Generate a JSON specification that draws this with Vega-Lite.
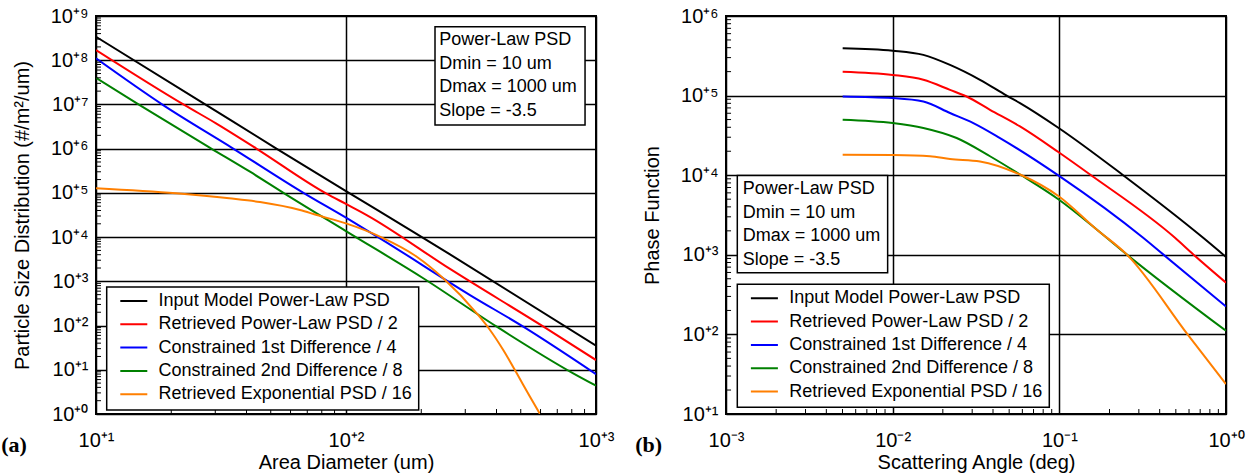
{
  "$schema": "https://vega.github.io/schema/vega-lite/v6.json",
  "background": "white",
  "padding": {"left": 0, "top": 5, "right": 5, "bottom": 0},
  "spacing": 130,
  "bounds": "flush",
  "datasets": {
    "a": [
      {"s": "Input Model Power-Law PSD", "x": 10, "y": 3.39e8},
      {"s": "Input Model Power-Law PSD", "x": 27.54, "y": 9.77e6},
      {"s": "Input Model Power-Law PSD", "x": 52.48, "y": 1.02e6},
      {"s": "Input Model Power-Law PSD", "x": 100, "y": 1.10e5},
      {"s": "Input Model Power-Law PSD", "x": 185.8, "y": 13180},
      {"s": "Input Model Power-Law PSD", "x": 260.6, "y": 4074},
      {"s": "Input Model Power-Law PSD", "x": 1000, "y": 35},
      {"s": "Retrieved Power-Law PSD / 2", "x": 10, "y": 1.70e8},
      {"s": "Retrieved Power-Law PSD / 2", "x": 22.54, "y": 9.77e6},
      {"s": "Retrieved Power-Law PSD / 2", "x": 30.2, "y": 3.74e6},
      {"s": "Retrieved Power-Law PSD / 2", "x": 43.65, "y": 1.02e6},
      {"s": "Retrieved Power-Law PSD / 2", "x": 83.18, "y": 9.77e4},
      {"s": "Retrieved Power-Law PSD / 2", "x": 100, "y": 5.62e4},
      {"s": "Retrieved Power-Law PSD / 2", "x": 121, "y": 3.16e4},
      {"s": "Retrieved Power-Law PSD / 2", "x": 260.6, "y": 1905},
      {"s": "Retrieved Power-Law PSD / 2", "x": 616.6, "y": 94.2},
      {"s": "Retrieved Power-Law PSD / 2", "x": 1000, "y": 16.6},
      {"s": "Constrained 1st Difference / 4", "x": 10, "y": 1.10e8},
      {"s": "Constrained 1st Difference / 4", "x": 18.5, "y": 9.77e6},
      {"s": "Constrained 1st Difference / 4", "x": 35.24, "y": 1.02e6},
      {"s": "Constrained 1st Difference / 4", "x": 68.08, "y": 9.77e4},
      {"s": "Constrained 1st Difference / 4", "x": 100, "y": 2.75e4},
      {"s": "Constrained 1st Difference / 4", "x": 136.8, "y": 9397},
      {"s": "Constrained 1st Difference / 4", "x": 313.3, "y": 490},
      {"s": "Constrained 1st Difference / 4", "x": 511.7, "y": 94.2},
      {"s": "Constrained 1st Difference / 4", "x": 1000, "y": 7.94},
      {"s": "Constrained 2nd Difference / 8", "x": 10, "y": 3.98e7},
      {"s": "Constrained 2nd Difference / 8", "x": 14.9, "y": 9.77e6},
      {"s": "Constrained 2nd Difference / 8", "x": 28.8, "y": 1.02e6},
      {"s": "Constrained 2nd Difference / 8", "x": 41.3, "y": 3.01e5},
      {"s": "Constrained 2nd Difference / 8", "x": 56.6, "y": 9.77e4},
      {"s": "Constrained 2nd Difference / 8", "x": 100.7, "y": 1.33e4},
      {"s": "Constrained 2nd Difference / 8", "x": 203.7, "y": 1175},
      {"s": "Constrained 2nd Difference / 8", "x": 400.9, "y": 94.2},
      {"s": "Constrained 2nd Difference / 8", "x": 810.5, "y": 8.32},
      {"s": "Constrained 2nd Difference / 8", "x": 1000, "y": 4.37},
      {"s": "Retrieved Exponential PSD / 16", "x": 10, "y": 1.27e5},
      {"s": "Retrieved Exponential PSD / 16", "x": 20.9, "y": 9.77e4},
      {"s": "Retrieved Exponential PSD / 16", "x": 34.1, "y": 7.53e4},
      {"s": "Retrieved Exponential PSD / 16", "x": 45.3, "y": 6.22e4},
      {"s": "Retrieved Exponential PSD / 16", "x": 65.5, "y": 4.10e4},
      {"s": "Retrieved Exponential PSD / 16", "x": 76.4, "y": 3.16e4},
      {"s": "Retrieved Exponential PSD / 16", "x": 100, "y": 2.04e4},
      {"s": "Retrieved Exponential PSD / 16", "x": 138, "y": 1.0e4},
      {"s": "Retrieved Exponential PSD / 16", "x": 191.9, "y": 3606},
      {"s": "Retrieved Exponential PSD / 16", "x": 244.9, "y": 1175},
      {"s": "Retrieved Exponential PSD / 16", "x": 333.4, "y": 189},
      {"s": "Retrieved Exponential PSD / 16", "x": 376.7, "y": 79.4},
      {"s": "Retrieved Exponential PSD / 16", "x": 425.6, "y": 28.0},
      {"s": "Retrieved Exponential PSD / 16", "x": 482, "y": 8.32},
      {"s": "Retrieved Exponential PSD / 16", "x": 544.5, "y": 2.45},
      {"s": "Retrieved Exponential PSD / 16", "x": 597, "y": 1.0}
    ],
    "b": [
      {"s": "Input Model Power-Law PSD", "x": 0.005012, "y": 3.94e5},
      {"s": "Input Model Power-Law PSD", "x": 0.01, "y": 3.67e5},
      {"s": "Input Model Power-Law PSD", "x": 0.01528, "y": 3.25e5},
      {"s": "Input Model Power-Law PSD", "x": 0.02208, "y": 2.43e5},
      {"s": "Input Model Power-Law PSD", "x": 0.03342, "y": 1.58e5},
      {"s": "Input Model Power-Law PSD", "x": 0.04831, "y": 1.0e5},
      {"s": "Input Model Power-Law PSD", "x": 0.05808, "y": 8.05e4},
      {"s": "Input Model Power-Law PSD", "x": 0.0991, "y": 3.92e4},
      {"s": "Input Model Power-Law PSD", "x": 0.2415, "y": 1.0e4},
      {"s": "Input Model Power-Law PSD", "x": 0.7295, "y": 1637},
      {"s": "Input Model Power-Law PSD", "x": 1, "y": 940},
      {"s": "Retrieved Power-Law PSD / 2", "x": 0.005012, "y": 2.0e5},
      {"s": "Retrieved Power-Law PSD / 2", "x": 0.01, "y": 1.82e5},
      {"s": "Retrieved Power-Law PSD / 2", "x": 0.01528, "y": 1.58e5},
      {"s": "Retrieved Power-Law PSD / 2", "x": 0.02208, "y": 1.18e5},
      {"s": "Retrieved Power-Law PSD / 2", "x": 0.02777, "y": 9.75e4},
      {"s": "Retrieved Power-Law PSD / 2", "x": 0.03837, "y": 6.64e4},
      {"s": "Retrieved Power-Law PSD / 2", "x": 0.05808, "y": 4.10e4},
      {"s": "Retrieved Power-Law PSD / 2", "x": 0.0991, "y": 1.94e4},
      {"s": "Retrieved Power-Law PSD / 2", "x": 0.1528, "y": 1.02e4},
      {"s": "Retrieved Power-Law PSD / 2", "x": 0.4943, "y": 1637},
      {"s": "Retrieved Power-Law PSD / 2", "x": 0.6368, "y": 1012},
      {"s": "Retrieved Power-Law PSD / 2", "x": 1, "y": 447},
      {"s": "Constrained 1st Difference / 4", "x": 0.005012, "y": 9.75e4},
      {"s": "Constrained 1st Difference / 4", "x": 0.01, "y": 9.3e4},
      {"s": "Constrained 1st Difference / 4", "x": 0.01528, "y": 8.43e4},
      {"s": "Constrained 1st Difference / 4", "x": 0.02208, "y": 6.04e4},
      {"s": "Constrained 1st Difference / 4", "x": 0.03048, "y": 4.52e4},
      {"s": "Constrained 1st Difference / 4", "x": 0.04406, "y": 2.93e4},
      {"s": "Constrained 1st Difference / 4", "x": 0.0991, "y": 9886},
      {"s": "Constrained 1st Difference / 4", "x": 0.3184, "y": 1637},
      {"s": "Constrained 1st Difference / 4", "x": 0.4198, "y": 1012},
      {"s": "Constrained 1st Difference / 4", "x": 1, "y": 224},
      {"s": "Constrained 2nd Difference / 8", "x": 0.005012, "y": 4.98e4},
      {"s": "Constrained 2nd Difference / 8", "x": 0.01, "y": 4.52e4},
      {"s": "Constrained 2nd Difference / 8", "x": 0.01528, "y": 3.92e4},
      {"s": "Constrained 2nd Difference / 8", "x": 0.0242, "y": 2.93e4},
      {"s": "Constrained 2nd Difference / 8", "x": 0.03837, "y": 1.73e4},
      {"s": "Constrained 2nd Difference / 8", "x": 0.05808, "y": 1.02e4},
      {"s": "Constrained 2nd Difference / 8", "x": 0.0991, "y": 4943},
      {"s": "Constrained 2nd Difference / 8", "x": 0.1675, "y": 2080},
      {"s": "Constrained 2nd Difference / 8", "x": 0.2535, "y": 1012},
      {"s": "Constrained 2nd Difference / 8", "x": 1, "y": 111},
      {"s": "Retrieved Exponential PSD / 16", "x": 0.005012, "y": 1.81e4},
      {"s": "Retrieved Exponential PSD / 16", "x": 0.01, "y": 1.79e4},
      {"s": "Retrieved Exponential PSD / 16", "x": 0.01675, "y": 1.73e4},
      {"s": "Retrieved Exponential PSD / 16", "x": 0.02208, "y": 1.60e4},
      {"s": "Retrieved Exponential PSD / 16", "x": 0.03342, "y": 1.49e4},
      {"s": "Retrieved Exponential PSD / 16", "x": 0.05808, "y": 1.02e4},
      {"s": "Retrieved Exponential PSD / 16", "x": 0.0991, "y": 5445},
      {"s": "Retrieved Exponential PSD / 16", "x": 0.1675, "y": 2080},
      {"s": "Retrieved Exponential PSD / 16", "x": 0.2535, "y": 1012},
      {"s": "Retrieved Exponential PSD / 16", "x": 0.5929, "y": 97.7},
      {"s": "Retrieved Exponential PSD / 16", "x": 1, "y": 23.8}
    ],
    "ta": [
      {"axis": "x", "v": 20}, {"axis": "x", "v": 30}, {"axis": "x", "v": 40}, {"axis": "x", "v": 50}, {"axis": "x", "v": 60}, {"axis": "x", "v": 70}, {"axis": "x", "v": 80}, {"axis": "x", "v": 90},
      {"axis": "x", "v": 200}, {"axis": "x", "v": 300}, {"axis": "x", "v": 400}, {"axis": "x", "v": 500}, {"axis": "x", "v": 600}, {"axis": "x", "v": 700}, {"axis": "x", "v": 800}, {"axis": "x", "v": 900},
      {"axis": "y", "v": 2}, {"axis": "y", "v": 3}, {"axis": "y", "v": 4}, {"axis": "y", "v": 5}, {"axis": "y", "v": 6}, {"axis": "y", "v": 7}, {"axis": "y", "v": 8}, {"axis": "y", "v": 9},
      {"axis": "y", "v": 20}, {"axis": "y", "v": 30}, {"axis": "y", "v": 40}, {"axis": "y", "v": 50}, {"axis": "y", "v": 60}, {"axis": "y", "v": 70}, {"axis": "y", "v": 80}, {"axis": "y", "v": 90},
      {"axis": "y", "v": 200}, {"axis": "y", "v": 300}, {"axis": "y", "v": 400}, {"axis": "y", "v": 500}, {"axis": "y", "v": 600}, {"axis": "y", "v": 700}, {"axis": "y", "v": 800}, {"axis": "y", "v": 900},
      {"axis": "y", "v": 2000}, {"axis": "y", "v": 3000}, {"axis": "y", "v": 4000}, {"axis": "y", "v": 5000}, {"axis": "y", "v": 6000}, {"axis": "y", "v": 7000}, {"axis": "y", "v": 8000}, {"axis": "y", "v": 9000},
      {"axis": "y", "v": 2e4}, {"axis": "y", "v": 3e4}, {"axis": "y", "v": 4e4}, {"axis": "y", "v": 5e4}, {"axis": "y", "v": 6e4}, {"axis": "y", "v": 7e4}, {"axis": "y", "v": 8e4}, {"axis": "y", "v": 9e4},
      {"axis": "y", "v": 2e5}, {"axis": "y", "v": 3e5}, {"axis": "y", "v": 4e5}, {"axis": "y", "v": 5e5}, {"axis": "y", "v": 6e5}, {"axis": "y", "v": 7e5}, {"axis": "y", "v": 8e5}, {"axis": "y", "v": 9e5},
      {"axis": "y", "v": 2e6}, {"axis": "y", "v": 3e6}, {"axis": "y", "v": 4e6}, {"axis": "y", "v": 5e6}, {"axis": "y", "v": 6e6}, {"axis": "y", "v": 7e6}, {"axis": "y", "v": 8e6}, {"axis": "y", "v": 9e6},
      {"axis": "y", "v": 2e7}, {"axis": "y", "v": 3e7}, {"axis": "y", "v": 4e7}, {"axis": "y", "v": 5e7}, {"axis": "y", "v": 6e7}, {"axis": "y", "v": 7e7}, {"axis": "y", "v": 8e7}, {"axis": "y", "v": 9e7},
      {"axis": "y", "v": 2e8}, {"axis": "y", "v": 3e8}, {"axis": "y", "v": 4e8}, {"axis": "y", "v": 5e8}, {"axis": "y", "v": 6e8}, {"axis": "y", "v": 7e8}, {"axis": "y", "v": 8e8}, {"axis": "y", "v": 9e8}
    ],
    "tb": [
      {"axis": "x", "v": 0.002}, {"axis": "x", "v": 0.003}, {"axis": "x", "v": 0.004}, {"axis": "x", "v": 0.005}, {"axis": "x", "v": 0.006}, {"axis": "x", "v": 0.007}, {"axis": "x", "v": 0.008}, {"axis": "x", "v": 0.009},
      {"axis": "x", "v": 0.02}, {"axis": "x", "v": 0.03}, {"axis": "x", "v": 0.04}, {"axis": "x", "v": 0.05}, {"axis": "x", "v": 0.06}, {"axis": "x", "v": 0.07}, {"axis": "x", "v": 0.08}, {"axis": "x", "v": 0.09},
      {"axis": "x", "v": 0.2}, {"axis": "x", "v": 0.3}, {"axis": "x", "v": 0.4}, {"axis": "x", "v": 0.5}, {"axis": "x", "v": 0.6}, {"axis": "x", "v": 0.7}, {"axis": "x", "v": 0.8}, {"axis": "x", "v": 0.9},
      {"axis": "y", "v": 20}, {"axis": "y", "v": 30}, {"axis": "y", "v": 40}, {"axis": "y", "v": 50}, {"axis": "y", "v": 60}, {"axis": "y", "v": 70}, {"axis": "y", "v": 80}, {"axis": "y", "v": 90},
      {"axis": "y", "v": 200}, {"axis": "y", "v": 300}, {"axis": "y", "v": 400}, {"axis": "y", "v": 500}, {"axis": "y", "v": 600}, {"axis": "y", "v": 700}, {"axis": "y", "v": 800}, {"axis": "y", "v": 900},
      {"axis": "y", "v": 2000}, {"axis": "y", "v": 3000}, {"axis": "y", "v": 4000}, {"axis": "y", "v": 5000}, {"axis": "y", "v": 6000}, {"axis": "y", "v": 7000}, {"axis": "y", "v": 8000}, {"axis": "y", "v": 9000},
      {"axis": "y", "v": 2e4}, {"axis": "y", "v": 3e4}, {"axis": "y", "v": 4e4}, {"axis": "y", "v": 5e4}, {"axis": "y", "v": 6e4}, {"axis": "y", "v": 7e4}, {"axis": "y", "v": 8e4}, {"axis": "y", "v": 9e4},
      {"axis": "y", "v": 2e5}, {"axis": "y", "v": 3e5}, {"axis": "y", "v": 4e5}, {"axis": "y", "v": 5e5}, {"axis": "y", "v": 6e5}, {"axis": "y", "v": 7e5}, {"axis": "y", "v": 8e5}, {"axis": "y", "v": 9e5}
    ]
  },
  "hconcat": [
    {
      "width": 500,
      "height": 398,
      "title": {"text": "(a)", "orient": "bottom", "anchor": "start", "offset": -37, "dx": -11},
      "layer": [
        {
          "data": {"name": "a"},
          "mark": {"type": "line", "strokeWidth": 2, "clip": true, "interpolate": "monotone"},
          "encoding": {
            "x": {"field": "x", "type": "quantitative",
              "scale": {"type": "log", "domain": [10, 1000], "nice": false},
              "axis": {"title": "Area Diameter (um)", "orient": "bottom",
                "values": [10, 100, 1000], "labelPadding": 16, "titlePadding": 2}},
            "y": {"field": "y", "type": "quantitative",
              "scale": {"type": "log", "domain": [1, 1e9], "nice": false},
              "axis": {"title": "Particle Size Distribution (#/m²/um)", "orient": "left",
                "values": [1, 10, 100, 1000, 1e4, 1e5, 1e6, 1e7, 1e8, 1e9], "labelPadding": 8, "titlePadding": 18}},
            "color": {"field": "s", "type": "nominal",
              "scale": {"domain": ["Input Model Power-Law PSD", "Retrieved Power-Law PSD / 2", "Constrained 1st Difference / 4", "Constrained 2nd Difference / 8", "Retrieved Exponential PSD / 16"],
                "range": ["#000000", "#ff0000", "#0000ff", "#008000", "#ff7f00"]},
              "legend": {"orient": "none", "legendX": 10.7, "legendY": 271}}
          }
        },
        {
          "data": {"name": "ta"},
          "transform": [{"filter": "datum.axis == 'x'"}],
          "mark": {"type": "rule", "strokeWidth": 1, "color": "black"},
          "encoding": {"x": {"field": "v", "type": "quantitative"}, "y": {"datum": 1}, "y2": {"datum": 1.297}}
        },
        {
          "data": {"name": "ta"},
          "transform": [{"filter": "datum.axis == 'y'"}],
          "mark": {"type": "rule", "strokeWidth": 1, "color": "black"},
          "encoding": {"y": {"field": "v", "type": "quantitative"}, "x": {"datum": 10}, "x2": {"datum": 10.47}}
        },
        {
          "data": {"values": [{}]},
          "mark": {"type": "rect", "fill": "white", "stroke": "black", "strokeWidth": 1.5},
          "encoding": {
            "x": {"datum": 227}, "x2": {"datum": 904},
            "y": {"datum": 5.73e8}, "y2": {"datum": 3.43e6}
          }
        },
        {
          "data": {"values": [{}]},
          "mark": {"type": "text", "text": ["Power-Law PSD", "Dmin = 10 um", "Dmax = 1000 um", "Slope = -3.5"],
            "align": "left", "baseline": "alphabetic", "fontSize": 18, "lineHeight": 23.6, "font": "Liberation Sans", "color": "black"},
          "encoding": {"x": {"datum": 236}, "y": {"datum": 2.21e8}}
        }
      ]
    },
    {
      "width": 500,
      "height": 398,
      "title": {"text": "(b)", "orient": "bottom", "anchor": "start", "offset": -37, "dx": -7},
      "layer": [
        {
          "data": {"name": "b"},
          "mark": {"type": "line", "strokeWidth": 2, "clip": true, "interpolate": "monotone"},
          "encoding": {
            "x": {"field": "x", "type": "quantitative",
              "scale": {"type": "log", "domain": [0.001, 1], "nice": false},
              "axis": {"title": "Scattering Angle (deg)", "orient": "bottom",
                "values": [0.001, 0.01, 0.1, 1], "labelPadding": 16, "titlePadding": 2}},
            "y": {"field": "y", "type": "quantitative",
              "scale": {"type": "log", "domain": [10, 1e6], "nice": false},
              "axis": {"title": "Phase Function", "orient": "left",
                "values": [10, 100, 1000, 1e4, 1e5, 1e6], "labelPadding": 8, "titlePadding": 18}},
            "color": {"field": "s", "type": "nominal",
              "scale": {"domain": ["Input Model Power-Law PSD", "Retrieved Power-Law PSD / 2", "Constrained 1st Difference / 4", "Constrained 2nd Difference / 8", "Retrieved Exponential PSD / 16"],
                "range": ["#000000", "#ff0000", "#0000ff", "#008000", "#ff7f00"]},
              "legend": {"orient": "none", "legendX": 11.3, "legendY": 268.3}}
          }
        },
        {
          "data": {"name": "tb"},
          "transform": [{"filter": "datum.axis == 'x'"}],
          "mark": {"type": "rule", "strokeWidth": 1, "color": "black"},
          "encoding": {"x": {"field": "v", "type": "quantitative"}, "y": {"datum": 10}, "y2": {"datum": 11.55}}
        },
        {
          "data": {"name": "tb"},
          "transform": [{"filter": "datum.axis == 'y'"}],
          "mark": {"type": "rule", "strokeWidth": 1, "color": "black"},
          "encoding": {"y": {"field": "v", "type": "quantitative"}, "x": {"datum": 0.001}, "x2": {"datum": 0.001072}}
        },
        {
          "data": {"values": [{}]},
          "mark": {"type": "rect", "fill": "white", "stroke": "black", "strokeWidth": 1.5},
          "encoding": {
            "x": {"datum": 0.001169}, "x2": {"datum": 0.00933},
            "y": {"datum": 9886}, "y2": {"datum": 597}
          }
        },
        {
          "data": {"values": [{}]},
          "mark": {"type": "text", "text": ["Power-Law PSD", "Dmin = 10 um", "Dmax = 1000 um", "Slope = -3.5"],
            "align": "left", "baseline": "alphabetic", "fontSize": 18, "lineHeight": 23.6, "font": "Liberation Sans", "color": "black"},
          "encoding": {"x": {"datum": 0.001259}, "y": {"datum": 5794}}
        }
      ]
    }
  ],
  "resolve": {"scale": {"color": "independent"}, "legend": {"color": "independent"}},
  "config": {
    "font": "Liberation Sans",
    "view": {"stroke": "black", "strokeWidth": 2},
    "axis": {
      "labelFont": "Liberation Sans", "labelFontSize": 20, "labelColor": "black",
      "titleFont": "Liberation Sans", "titleFontSize": 20, "titleFontWeight": "normal", "titleColor": "black",
      "domain": false, "ticks": false,
      "grid": true, "gridColor": "black", "gridWidth": 1.5, "gridOpacity": 1,
      "labelFlush": false, "labelOverlap": false,
      "labelExpr": "'10' + (round(log(datum.value)/LN10) < 0 ? '⁻' : '⁺') + ['⁰','¹','²','³','⁴','⁵','⁶','⁷','⁸','⁹'][abs(round(log(datum.value)/LN10))]"
    },
    "legend": {
      "title": null, "strokeColor": "black", "strokeWidth": 1.5, "fillColor": "white",
      "padding": 6, "labelFont": "Liberation Sans", "labelFontSize": 18, "labelColor": "black", "labelLimit": 400,
      "symbolType": "stroke", "symbolSize": 729, "symbolStrokeWidth": 2, "clipHeight": 16,
      "rowPadding": 5.3, "symbolOffset": 6.6, "labelOffset": 10.3
    },
    "title": {"font": "Liberation Serif", "fontSize": 22, "fontWeight": "bold", "color": "black"}
  }
}
